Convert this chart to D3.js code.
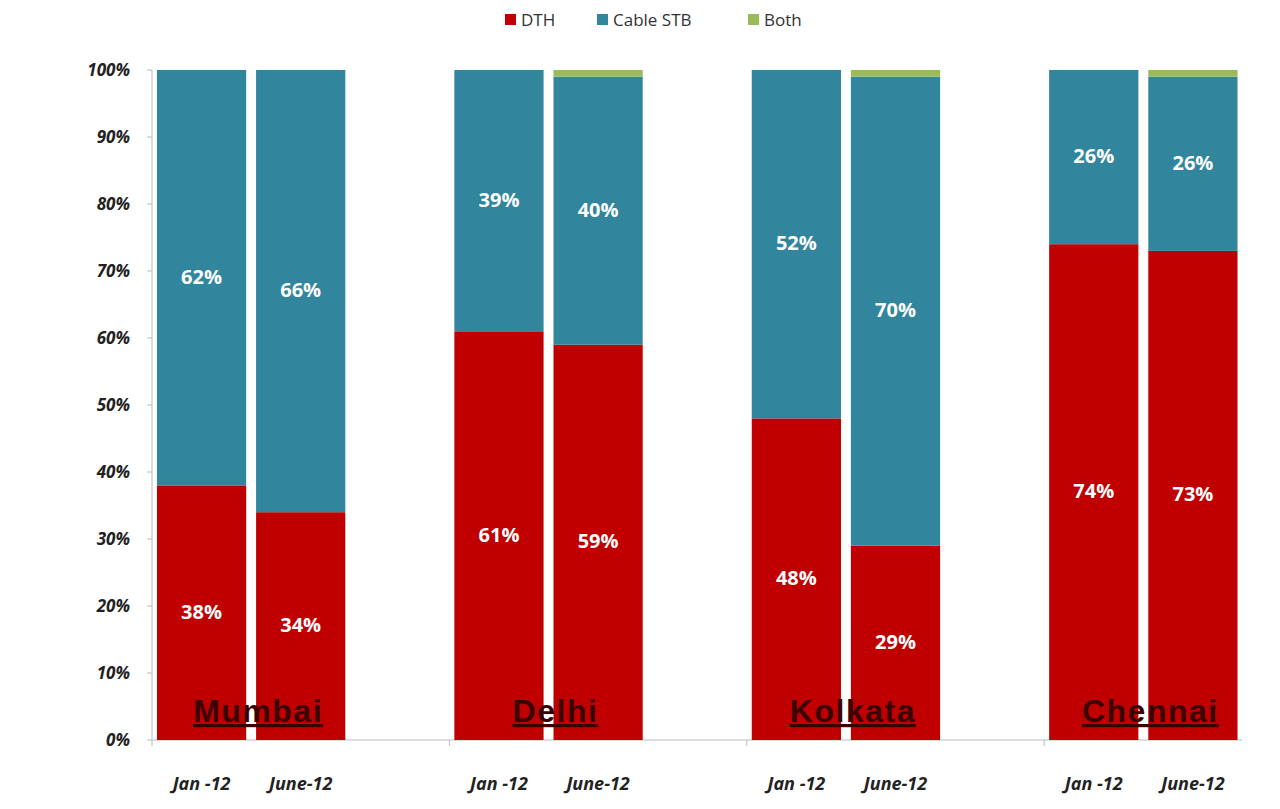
<!DOCTYPE html>
<html><head><meta charset="utf-8">
<script src="https://cdn.jsdelivr.net/npm/d3@7"></script>
<style>body{margin:0;background:#fff}</style></head>
<body><svg id="c" width="1280" height="809"></svg>
<script>
const cities=["Mumbai","Delhi","Kolkata","Chennai"];
const periods=["Jan -12","June-12"];
const dth=[[38,34],[61,59],[48,29],[74,73]];
const cable=[[62,66],[39,40],[52,70],[26,26]];
const both=[[0,0],[0,1],[0,1],[0,1]];
const seriesNames=["DTH","Cable STB","Both"];
const colors=["#c00000","#31859c","#9bbb59"];
const yTicks=[0,10,20,30,40,50,60,70,80,90,100];

const svg=d3.select("#c");
const y=d3.scaleLinear().domain([0,100]).range([740,70]);
const gx=d3.scaleBand().domain(cities).range([152,152+4*297.4]).padding(0);
const sx=d3.scaleBand().domain([0,1,2]).range([0,297.4]).paddingInner(0.1).paddingOuter(0.05);

svg.append("line").attr("x1",152).attr("x2",152).attr("y1",70).attr("y2",740).attr("stroke","#bbb");
yTicks.forEach(t=>{
  svg.append("line").attr("x1",147).attr("x2",152).attr("y1",y(t)).attr("y2",y(t)).attr("stroke","#bbb");
  svg.append("text").attr("x",130).attr("y",y(t)+6).attr("text-anchor","end")
   .attr("font-family","Open Sans, Arial").attr("font-weight","bold").attr("font-style","italic")
   .attr("font-size",17).attr("fill","#222").text(t+"%");
});
svg.append("line").attr("x1",152).attr("x2",1242).attr("y1",740).attr("y2",740).attr("stroke","#bbb");
cities.forEach((c,i)=>{
  const xx=gx(c);
  svg.append("line").attr("x1",xx).attr("x2",xx).attr("y1",740).attr("y2",746).attr("stroke","#bbb");
  periods.forEach((p,j)=>{
    const x0=xx+sx(j), w=sx.bandwidth();
    const vals=[dth[i][j],cable[i][j],both[i][j]];
    let acc=0;
    vals.forEach((v,k)=>{
      if(v<=0) return;
      svg.append("rect").attr("x",x0).attr("width",w).attr("y",y(acc+v)).attr("height",y(acc)-y(acc+v)).attr("fill",colors[k]);
      if(k<2) svg.append("text").attr("x",x0+w/2).attr("y",y(acc+v/2)+6)
        .attr("text-anchor","middle").attr("font-family","Open Sans, Arial").attr("font-weight","bold")
        .attr("font-size",20).attr("fill","#fff").text(v+"%");
      acc+=v;
    });
    svg.append("text").attr("x",x0+w/2).attr("y",790).attr("text-anchor","middle")
      .attr("font-family","Open Sans, Arial").attr("font-weight","bold").attr("font-style","italic")
      .attr("font-size",18).attr("fill","#222").text(p);
  });
  const cx=xx+sx(1)+2;
  svg.append("text").attr("x",cx).attr("y",722).attr("text-anchor","middle")
    .attr("font-family","Arial, Liberation Sans").attr("font-weight","bold").attr("font-size",32)
    .attr("letter-spacing",1.5)
    .attr("fill","#3a0000").attr("text-decoration","underline").text(c);
});
const lg=[[505,"DTH"],[597,"Cable STB"],[748,"Both"]];
seriesNames.forEach((s,k)=>{
  const lx=lg[k][0];
  svg.append("rect").attr("x",lx).attr("y",14).attr("width",11).attr("height",11).attr("fill",colors[k]);
  svg.append("text").attr("x",lx+16).attr("y",26).attr("font-family","Open Sans, Arial").attr("font-size",17).attr("fill","#333").text(s);
});
</script></body></html>
